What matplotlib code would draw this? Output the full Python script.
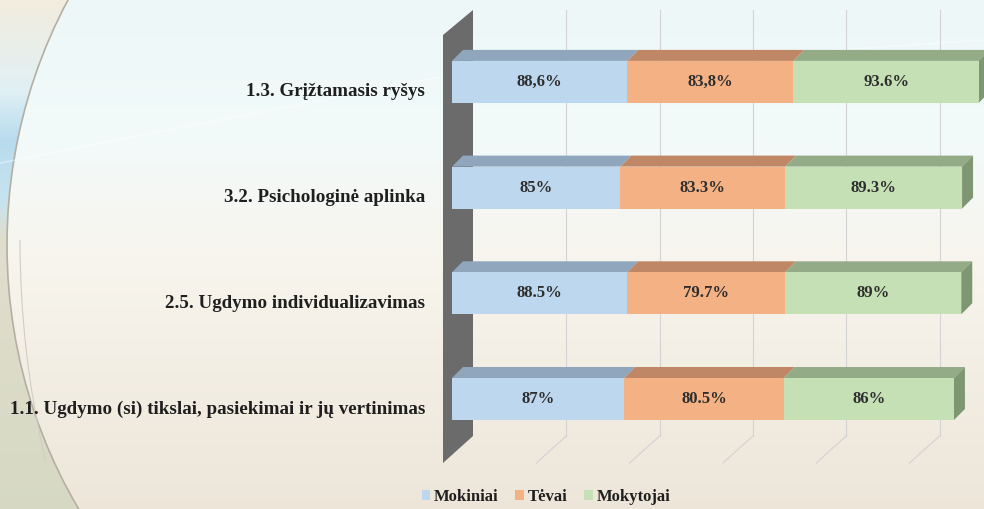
import numpy as np
import matplotlib.pyplot as plt
from matplotlib.patches import Polygon, Arc

# ---------------- data ----------------
categories = [
    "1.1. Ugdymo (si) tikslai, pasiekimai ir jų vertinimas",
    "2.5. Ugdymo individualizavimas",
    "3.2. Psichologinė aplinka",
    "1.3. Grįžtamasis ryšys",
]
series_names = ["Mokiniai", "Tėvai", "Mokytojai"]
mokiniai = [87.0, 88.5, 85.0, 88.6]
tevai = [80.5, 79.7, 83.3, 83.8]
mokytojai = [86.0, 89.0, 89.3, 93.6]
value_labels = [
    ["87%", "88.5%", "85%", "88,6%"],
    ["80.5%", "79.7%", "83.3%", "83,8%"],
    ["86%", "89%", "89.3%", "93.6%"],
]
grid_ticks = [50, 100, 150, 200, 250, 300]

front_colors = ["#BDD7EE", "#F4B183", "#C5E0B4"]
top_colors = ["#8FA6BC", "#C08767", "#94AB88"]
side_color = "#7F9672"
wall_color = "#6B6B6B"
grid_color = "#D3D3D3"
serif = "Liberation Serif"

W, H = 984, 509
fig = plt.figure(figsize=(W / 100, H / 100), dpi=100)

# ---------------- background ----------------
bg = fig.add_axes([0, 0, 1, 1], zorder=-5)
yy, xx = np.mgrid[0:H, 0:W]
stops_y = [0, 140, 260, 509]
stops_c = np.array([[0.93, 0.97, 0.97], [0.95, 0.98, 0.98],
                    [0.97, 0.96, 0.93], [0.93, 0.90, 0.85]])
img = np.zeros((H, W, 3))
for k in range(3):
    img[..., k] = np.interp(yy, stops_y, stops_c[:, k])
# left swoosh region (outside a big ellipse, left half only)
cx, cy, rx, ry = 470.0, 245.0, 463.0, 494.0
outside = (((xx - cx) / rx) ** 2 + ((yy - cy) / ry) ** 2 > 1) & (xx < cx)
left_c = np.zeros((H, W, 3))
ls_y = [0, 90, 140, 200, 240, 509]
ls_c = np.array([[0.95, 0.93, 0.87], [0.88, 0.94, 0.96], [0.72, 0.86, 0.93],
                 [0.78, 0.89, 0.94], [0.88, 0.87, 0.80], [0.84, 0.85, 0.77]])
for k in range(3):
    left_c[..., k] = np.interp(yy, ls_y, ls_c[:, k])
img[outside] = left_c[outside]
bg.imshow(img, extent=[0, W, H, 0], aspect="auto", interpolation="bilinear")
bg.add_patch(Arc((cx, cy), 2 * rx, 2 * ry, theta1=100, theta2=260,
                 ec="#B5AFA3", lw=1.2))
bg.add_patch(Arc((520, 240), 1000, 1400, theta1=155, theta2=180,
                 ec="#D2CDC3", lw=0.8))
bg.plot([0, 440, 984], [163, 77, 40], color="white", lw=1.0, alpha=0.45)
bg.set_xlim(0, W)
bg.set_ylim(H, 0)
bg.axis("off")

# ---------------- chart ----------------
ax = fig.add_axes([0, 0, 1, 1])
ax.patch.set_alpha(0)
sx = 1.98          # px per value unit
sy = 105.7         # px per category
x0_px, y0_px = 452, 399   # front of first bar, from top
ax.set_xlim(-x0_px / sx, (W - x0_px) / sx)
ax.set_ylim(-(H - y0_px) / sy, y0_px / sy)
ax.axis("off")

def px_dx(p):
    return p / sx

def px_dy(p):
    return p / sy

y = np.arange(len(categories))
bar_h = 42 / sy
ddx, ddy = px_dx(11), px_dy(11)

# back wall gridlines (slightly smaller scale at the back)
back_scale = 1.866 / sx
back_off = px_dx(473 - x0_px)
wall_top, wall_bot = y0_px / sy - px_dy(10), y0_px / sy - px_dy(436)
depth_x, depth_y = px_dx(-30), px_dy(-27)
for t in grid_ticks:
    xb = back_off + t * back_scale
    ax.plot([xb, xb], [wall_bot, wall_top], color=grid_color, lw=0.8, zorder=1)
    ax.plot([xb, xb + depth_x], [wall_bot, wall_bot + depth_y],
            color=grid_color, lw=0.8, zorder=1)

# side wall
wall = Polygon([(back_off + depth_x, wall_top + depth_y - px_dy(-2)),
                (back_off, wall_top),
                (back_off, wall_bot),
                (back_off + depth_x, wall_bot + depth_y)],
               closed=True, fc=wall_color, ec="none", zorder=2)
ax.add_patch(wall)

# bars
series = [mokiniai, tevai, mokytojai]
left = np.zeros(len(categories))
handles = []
for s, vals in enumerate(series):
    vals = np.array(vals)
    b = ax.barh(y, vals, left=left, height=bar_h, color=front_colors[s],
                edgecolor="none", zorder=4, label=series_names[s])
    handles.append(b)
    for i in range(len(categories)):
        x0, x1 = left[i], left[i] + vals[i]
        yt = y[i] + bar_h / 2
        ax.add_patch(Polygon([(x0, yt), (x1, yt), (x1 + ddx, yt + ddy),
                              (x0 + ddx, yt + ddy)], closed=True,
                             fc=top_colors[s], ec="none", zorder=3))
        ax.text((x0 + x1) / 2, y[i], value_labels[s][i], ha="center",
                va="center", fontsize=12, fontweight="bold",
                family=serif, color="#2E2E2E", zorder=6)
    left = left + vals

for i in range(len(categories)):
    yb, yt = y[i] - bar_h / 2, y[i] + bar_h / 2
    xr = left[i]
    ax.add_patch(Polygon([(xr, yb), (xr, yt), (xr + ddx, yt + ddy),
                          (xr + ddx, yb + ddy)], closed=True,
                         fc=side_color, ec="none", zorder=3))

# category labels
for i, c in enumerate(categories):
    ax.text(px_dx(425 - x0_px), y[i] - px_dy(10), c, ha="right", va="center",
            fontsize=13.7, fontweight="bold", family=serif, color="#1F1F1F")

leg = ax.legend(handles=handles, loc="center", ncol=3, frameon=False,
                bbox_to_anchor=(546 / W, 1 - 497 / H),
                bbox_transform=fig.transFigure,
                prop={"family": serif, "weight": "bold", "size": 12},
                handlelength=0.5, handleheight=0.5, handletextpad=0.25,
                columnspacing=1.0)
for t in leg.get_texts():
    t.set_color("#1F1F1F")

fig.savefig("out.png", dpi=100)
